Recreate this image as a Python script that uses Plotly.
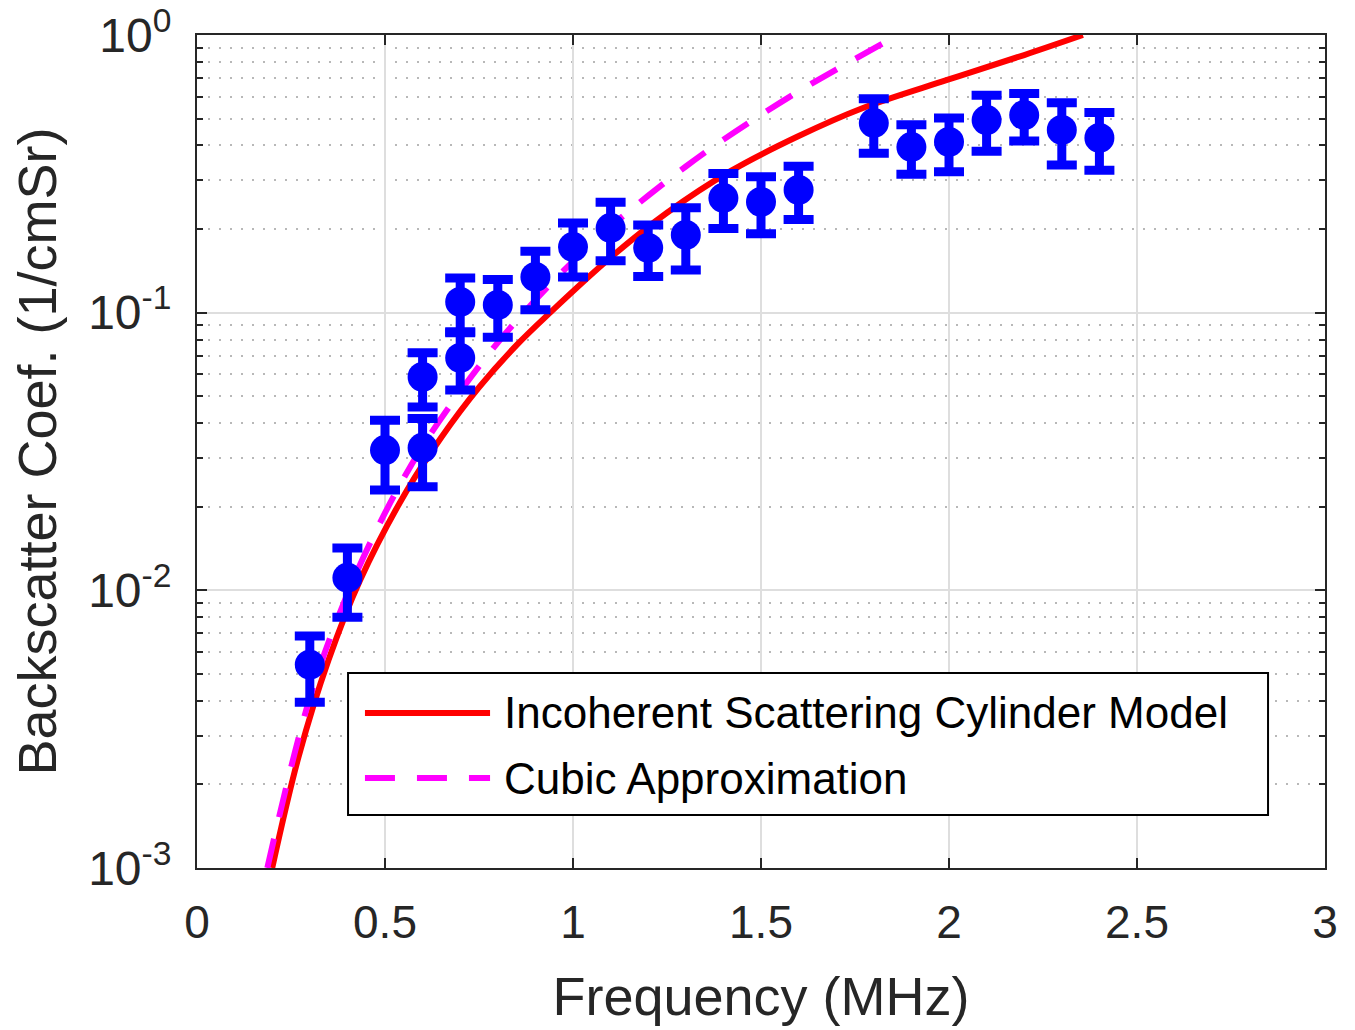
import plotly.graph_objects as go

# ---- data ----
freq = [0.3, 0.4, 0.5, 0.6, 0.6, 0.7, 0.7, 0.8, 0.9, 1.0, 1.1, 1.2, 1.3,
        1.4, 1.5, 1.6, 1.8, 1.9, 2.0, 2.1, 2.2, 2.3, 2.4]
bsc = [0.0054, 0.0111, 0.032, 0.0587, 0.0326, 0.1093, 0.0687, 0.1066, 0.1345,
       0.1724, 0.2018, 0.171, 0.1905, 0.2588, 0.2504, 0.2767, 0.482, 0.395,
       0.412, 0.494, 0.515, 0.455, 0.426]
bsc_err = [0.00145, 0.0031, 0.009, 0.013, 0.009, 0.024, 0.016, 0.025, 0.032,
           0.038, 0.048, 0.036, 0.048, 0.058, 0.058, 0.06, 0.107, 0.08, 0.09,
           0.113, 0.10, 0.115, 0.10]

model_f = [0.20, 0.27, 0.35, 0.434, 0.559, 0.65, 0.75, 0.85, 0.939, 1.1, 1.25,
           1.42, 1.596, 1.771, 1.995, 2.2, 2.356]
model_bsc = [0.0010, 0.00251, 0.00562, 0.0109, 0.0230, 0.0356, 0.0538, 0.0764,
             0.100, 0.158, 0.229, 0.324, 0.43, 0.546, 0.689, 0.847, 1.0]

cubic_f = [0.187, 0.3, 0.4, 0.5, 0.6, 0.7, 0.8, 0.9, 1.0, 1.1, 1.2, 1.3, 1.4,
           1.5, 1.6, 1.7, 1.87]
cubic_bsc = [0.0010, 0.0041, 0.0097, 0.019, 0.033, 0.052, 0.078, 0.111, 0.153,
             0.204, 0.264, 0.336, 0.42, 0.516, 0.627, 0.751, 1.01]

legend_labels = ["Incoherent Scattering Cylinder Model", "Cubic Approximation"]
x_title = "Frequency (MHz)"
y_title = "Backscatter Coef. (1/cmSr)"
y_tickvals = [0.001, 0.01, 0.1, 1]
y_ticktext = ["10<sup>-3</sup>", "10<sup>-2</sup>", "10<sup>-1</sup>", "10<sup>0</sup>"]
y_minor = [m * d for d in (0.001, 0.01, 0.1) for m in range(2, 10)]

FONT = "Liberation Sans, Arial, Helvetica, sans-serif"
TXT = "#262626"
RED = "#ff0000"
MAG = "#ff00ff"
BLUE = "#0000ff"

fig = go.Figure()
fig.add_trace(go.Scatter(x=model_f, y=model_bsc, mode="lines",
                         line=dict(color=RED, width=6, shape="spline", smoothing=1.0),
                         name=legend_labels[0], showlegend=False))
fig.add_trace(go.Scatter(x=cubic_f, y=cubic_bsc, mode="lines",
                         line=dict(color=MAG, width=6, dash="30px,22px", shape="spline", smoothing=1.0),
                         name=legend_labels[1], showlegend=False))
fig.add_trace(go.Scatter(x=freq, y=bsc, mode="markers",
                         marker=dict(color=BLUE, size=30, symbol="circle"),
                         error_y=dict(type="data", array=bsc_err, color=BLUE,
                                      thickness=9, width=15),
                         showlegend=False, name="data"))

# manual MATLAB-like legend (long line samples)
L = dict(x0=0.1339, x1=0.9495, y0=0.0636, y1=0.2341)
fig.add_shape(type="rect", xref="paper", yref="paper", layer="above",
              x0=L["x0"], x1=L["x1"], y0=L["y0"], y1=L["y1"],
              line=dict(color="#000000", width=2), fillcolor="white")
rows = [0.1861, 0.108]
styles = [dict(color=RED, width=6), dict(color=MAG, width=6, dash="30px,22px")]
for ry, st, lab in zip(rows, styles, legend_labels):
    fig.add_shape(type="line", xref="paper", yref="paper", layer="above",
                  x0=0.1489, x1=0.2598, y0=ry, y1=ry, line=st)
    fig.add_annotation(xref="paper", yref="paper", x=0.2704, y=ry,
                       xanchor="left", yanchor="middle", text=lab, showarrow=False,
                       font=dict(family=FONT, size=44, color="#000000"))

fig.update_layout(
    width=1355, height=1030,
    margin=dict(l=197, r=30, t=35, b=162, autoexpand=False),
    paper_bgcolor="white", plot_bgcolor="white",
    font=dict(family=FONT, color=TXT),
    showlegend=False,
)
fig.update_xaxes(
    automargin=False,
    range=[0, 3], dtick=0.5, tick0=0,
    showgrid=True, gridcolor="#dedede", gridwidth=1.5,
    zeroline=False,
    showline=True, linecolor=TXT, linewidth=2, mirror="allticks",
    ticks="inside", ticklen=10, tickwidth=2, tickcolor=TXT,
    tickfont=dict(size=46, color=TXT, family=FONT),
    ticklabelstandoff=13,
    title=dict(text=x_title, font=dict(size=54, color=TXT, family=FONT), standoff=30),
)
fig.update_yaxes(
    automargin=False,
    type="log", range=[-3, 0],
    tickmode="array", tickvals=y_tickvals, ticktext=y_ticktext,
    showgrid=True, gridcolor="#dedede", gridwidth=1.5,
    zeroline=False,
    showline=True, linecolor=TXT, linewidth=2, mirror="allticks",
    ticks="inside", ticklen=10, tickwidth=2, tickcolor=TXT,
    tickfont=dict(size=48, color=TXT, family=FONT),
    ticklabelstandoff=14, ticklabeloverflow="allow",
    minor=dict(tickmode="array", tickvals=y_minor, showgrid=True,
               gridcolor="#b8b8b8", griddash="2px,9px", gridwidth=1.5,
               ticks="inside", ticklen=6, tickwidth=2, tickcolor=TXT),
    title=dict(text=y_title, font=dict(size=54, color=TXT, family=FONT), standoff=14),
)

fig.write_html("out.html", config={"displayModeBar": False},
               post_script="document.body.style.margin='0';")
